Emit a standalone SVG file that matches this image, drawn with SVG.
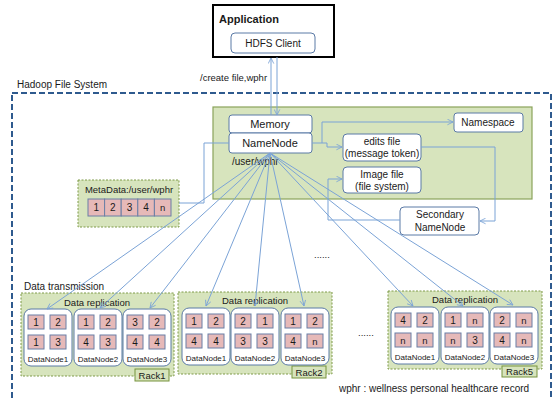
<svg xmlns="http://www.w3.org/2000/svg" width="556" height="399" viewBox="0 0 556 399">
  <style>
    text { font-family: "Liberation Sans", Arial, sans-serif; fill: #1a1a1a; }
    .t11 { font-size: 11px; }
    .t10 { font-size: 10px; }
    .t9 { font-size: 9.5px; }
    .lbl { font-size: 8px; }
    .mid { text-anchor: middle; }
    .wbox { fill: #ffffff; stroke: #5b7aa6; stroke-width: 1; }
    .panel { fill: #d7e4bd; stroke: #8aa35a; stroke-width: 1.2; }
    .dgreen { fill: #d7e4bd; stroke: #7f9a48; stroke-width: 1; stroke-dasharray: 2 1.5; }
    .rack { fill: #d7e4bd; stroke: #77933c; stroke-width: 1; }
    .dn { fill: #ffffff; stroke: #5b7aa6; stroke-width: 1; }
    .cell { fill: #e6b9b8; stroke: #6a7fa6; stroke-width: 1; }
    .conn { fill: none; stroke: #7ba3d6; stroke-width: 1; }
    .arr { marker-end: url(#ah); }
  </style>
  <defs>
    <marker id="ah" viewBox="0 0 10 10" refX="9" refY="5" markerWidth="7" markerHeight="7" orient="auto" markerUnits="userSpaceOnUse">
      <path d="M1,1 L9,5 L1,9" fill="none" stroke="#7ba3d6" stroke-width="1.2"/>
    </marker>
    <!-- data node: rounded white box with a 2x2 grid of blocks -->
    <g id="dnShell">
      <rect class="dn" x="0" y="0" width="48" height="57" rx="7"/>
    </g>
  </defs>

  <rect width="556" height="399" fill="#ffffff"/>

  <!-- Hadoop file system frame -->
  <g id="hdfs-frame">
    <rect x="12" y="93" width="539" height="320" fill="none" stroke="#2e5a8e" stroke-width="2" stroke-dasharray="6 3"/>
    <text class="t10" x="17" y="88">Hadoop File System</text>
  </g>

  <!-- Application -->
  <g id="application">
    <rect x="213" y="5" width="121" height="52" fill="#ffffff" stroke="#000000" stroke-width="2"/>
    <text class="t11" x="219" y="23" font-weight="bold">Application</text>
    <rect class="wbox" x="231" y="33" width="84" height="20" rx="4"/>
    <text class="t10 mid" x="273" y="47">HDFS Client</text>
  </g>

  <text class="t9" x="200" y="81" font-size="8.5">/create  file,wphr</text>

  <!-- NameNode panel -->
  <g id="namenode-panel">
    <rect class="panel" x="213" y="107" width="319" height="92"/>
  </g>
  <g id="memory">
    <rect class="wbox" x="229" y="115" width="83" height="18" rx="3"/>
    <text class="t11 mid" x="270" y="128">Memory</text>
  </g>
  <g id="namenode">
    <rect class="wbox" x="229" y="133" width="83" height="20" rx="3"/>
    <text class="t11 mid" x="270" y="147">NameNode</text>
    <text class="t10" x="232" y="165">/user/wphr</text>
  </g>
  <g id="namespace">
    <rect class="wbox" x="454" y="113" width="69" height="19" rx="3"/>
    <text class="t10 mid" x="488" y="126">Namespace</text>
  </g>
  <g id="edits-file">
    <rect class="wbox" x="343" y="134" width="78" height="27" rx="4"/>
    <text class="t10 mid" x="382" y="145">edits file</text>
    <text class="t10 mid" x="382" y="157">(message token)</text>
  </g>
  <g id="image-file">
    <rect class="wbox" x="343" y="167" width="78" height="26" rx="4"/>
    <text class="t10 mid" x="382" y="178">Image file</text>
    <text class="t10 mid" x="382" y="190">(file system)</text>
  </g>
  <g id="secondary-namenode">
    <rect class="wbox" x="400" y="207" width="79" height="28" rx="4"/>
    <text class="t10 mid" x="440" y="218">Secondary</text>
    <text class="t10 mid" x="440" y="231">NameNode</text>
  </g>

  <!-- Metadata -->
  <g id="metadata">
    <rect class="dgreen" x="78" y="180" width="101" height="47"/>
    <text class="t9 mid" x="129" y="193">MetaData:/user/wphr</text>
    <rect class="cell" x="88" y="199" width="16.6" height="17"/>
    <rect class="cell" x="104.6" y="199" width="16.6" height="17"/>
    <rect class="cell" x="121.2" y="199" width="16.6" height="17"/>
    <rect class="cell" x="137.8" y="199" width="16.6" height="17"/>
    <rect class="cell" x="154.4" y="199" width="16.6" height="17"/>
    <text class="t10 mid" x="96.3" y="211">1</text>
    <text class="t10 mid" x="112.9" y="211">2</text>
    <text class="t10 mid" x="129.5" y="211">3</text>
    <text class="t10 mid" x="146.1" y="211">4</text>
    <text class="t9 mid" x="162.7" y="211">n</text>
  </g>

  <text class="t10" x="24" y="290">Data transmission</text>
  <text class="t9" x="314" y="258">......</text>
  <text class="t9" x="358" y="336">......</text>

  <!-- Rack1 -->
  <g id="rack1">
    <rect class="dgreen" x="21" y="293" width="153" height="83"/>
    <text class="t9 mid" x="97" y="306">Data replication</text>
    <rect class="rack" x="135" y="369" width="34" height="12"/>
    <text class="t9 mid" x="152" y="378.5">Rack1</text>
  </g>
  <g id="rack1-dn1" transform="translate(24,309)">
    <use href="#dnShell"/>
    <rect class="cell" x="4" y="6" width="16" height="14"/><rect class="cell" x="26" y="6" width="16" height="14"/>
    <rect class="cell" x="4" y="26" width="16" height="14"/><rect class="cell" x="26" y="26" width="16" height="14"/>
    <text class="t10 mid" x="12" y="17">1</text><text class="t10 mid" x="34" y="17">2</text>
    <text class="t10 mid" x="12" y="37">1</text><text class="t10 mid" x="34" y="37">3</text>
    <text class="lbl mid" x="24" y="53">DataNode1</text>
  </g>
  <g id="rack1-dn2" transform="translate(74,309)">
    <use href="#dnShell"/>
    <rect class="cell" x="4" y="6" width="16" height="14"/><rect class="cell" x="26" y="6" width="16" height="14"/>
    <rect class="cell" x="4" y="26" width="16" height="14"/><rect class="cell" x="26" y="26" width="16" height="14"/>
    <text class="t10 mid" x="12" y="17">1</text><text class="t10 mid" x="34" y="17">2</text>
    <text class="t10 mid" x="12" y="37">4</text><text class="t10 mid" x="34" y="37">3</text>
    <text class="lbl mid" x="24" y="53">DataNode2</text>
  </g>
  <g id="rack1-dn3" transform="translate(123,309)">
    <use href="#dnShell"/>
    <rect class="cell" x="4" y="6" width="16" height="14"/><rect class="cell" x="26" y="6" width="16" height="14"/>
    <rect class="cell" x="4" y="26" width="16" height="14"/><rect class="cell" x="26" y="26" width="16" height="14"/>
    <text class="t10 mid" x="12" y="17">3</text><text class="t10 mid" x="34" y="17">2</text>
    <text class="t10 mid" x="12" y="37">4</text><text class="t10 mid" x="34" y="37">4</text>
    <text class="lbl mid" x="24" y="53">DataNode3</text>
  </g>

  <!-- Rack2 -->
  <g id="rack2">
    <rect class="dgreen" x="178" y="292" width="154" height="82"/>
    <text class="t9 mid" x="255" y="304">Data replication</text>
    <rect class="rack" x="292" y="366" width="34" height="12"/>
    <text class="t9 mid" x="309" y="375.5">Rack2</text>
  </g>
  <g id="rack2-dn1" transform="translate(182,308)">
    <use href="#dnShell"/>
    <rect class="cell" x="4" y="6" width="16" height="14"/><rect class="cell" x="26" y="6" width="16" height="14"/>
    <rect class="cell" x="4" y="26" width="16" height="14"/><rect class="cell" x="26" y="26" width="16" height="14"/>
    <text class="t10 mid" x="12" y="17">1</text><text class="t10 mid" x="34" y="17">2</text>
    <text class="t10 mid" x="12" y="37">4</text><text class="t10 mid" x="34" y="37">4</text>
    <text class="lbl mid" x="24" y="53">DataNode1</text>
  </g>
  <g id="rack2-dn2" transform="translate(231,308)">
    <use href="#dnShell"/>
    <rect class="cell" x="4" y="6" width="16" height="14"/><rect class="cell" x="26" y="6" width="16" height="14"/>
    <rect class="cell" x="4" y="26" width="16" height="14"/><rect class="cell" x="26" y="26" width="16" height="14"/>
    <text class="t10 mid" x="12" y="17">2</text><text class="t10 mid" x="34" y="17">1</text>
    <text class="t10 mid" x="12" y="37">3</text><text class="t10 mid" x="34" y="37">3</text>
    <text class="lbl mid" x="24" y="53">DataNode2</text>
  </g>
  <g id="rack2-dn3" transform="translate(281,308)">
    <use href="#dnShell"/>
    <rect class="cell" x="4" y="6" width="16" height="14"/><rect class="cell" x="26" y="6" width="16" height="14"/>
    <rect class="cell" x="4" y="26" width="16" height="14"/><rect class="cell" x="26" y="26" width="16" height="14"/>
    <text class="t10 mid" x="12" y="17">1</text><text class="t10 mid" x="34" y="17">2</text>
    <text class="t10 mid" x="12" y="37">4</text><text class="t9 mid" x="34" y="37">n</text>
    <text class="lbl mid" x="24" y="53">DataNode3</text>
  </g>

  <!-- Rack5 -->
  <g id="rack5">
    <rect class="dgreen" x="388" y="291" width="154" height="78"/>
    <text class="t9 mid" x="465" y="303">Data replication</text>
    <rect class="rack" x="502" y="366" width="35" height="11"/>
    <text class="t9 mid" x="519.5" y="375">Rack5</text>
  </g>
  <g id="rack5-dn1" transform="translate(391,307)">
    <use href="#dnShell"/>
    <rect class="cell" x="4" y="6" width="16" height="14"/><rect class="cell" x="26" y="6" width="16" height="14"/>
    <rect class="cell" x="4" y="26" width="16" height="14"/><rect class="cell" x="26" y="26" width="16" height="14"/>
    <text class="t10 mid" x="12" y="17">4</text><text class="t10 mid" x="34" y="17">2</text>
    <text class="t9 mid" x="12" y="37">n</text><text class="t9 mid" x="34" y="37">n</text>
    <text class="lbl mid" x="24" y="53">DataNode1</text>
  </g>
  <g id="rack5-dn2" transform="translate(441,307)">
    <use href="#dnShell"/>
    <rect class="cell" x="4" y="6" width="16" height="14"/><rect class="cell" x="26" y="6" width="16" height="14"/>
    <rect class="cell" x="4" y="26" width="16" height="14"/><rect class="cell" x="26" y="26" width="16" height="14"/>
    <text class="t10 mid" x="12" y="17">1</text><text class="t9 mid" x="34" y="17">n</text>
    <text class="t9 mid" x="12" y="37">n</text><text class="t10 mid" x="34" y="37">3</text>
    <text class="lbl mid" x="24" y="53">DataNode2</text>
  </g>
  <g id="rack5-dn3" transform="translate(490,307)">
    <use href="#dnShell"/>
    <rect class="cell" x="4" y="6" width="16" height="14"/><rect class="cell" x="26" y="6" width="16" height="14"/>
    <rect class="cell" x="4" y="26" width="16" height="14"/><rect class="cell" x="26" y="26" width="16" height="14"/>
    <text class="t10 mid" x="12" y="17">2</text><text class="t9 mid" x="34" y="17">n</text>
    <text class="t10 mid" x="12" y="37">4</text><text class="t9 mid" x="34" y="37">n</text>
    <text class="lbl mid" x="24" y="53">DataNode3</text>
  </g>

  <text class="t10" x="339" y="392">wphr : wellness personal healthcare record</text>

  <!-- connectors -->
  <g id="connectors">
    <line class="conn arr" x1="271" y1="115" x2="271" y2="58"/>
    <line class="conn arr" x1="277" y1="57" x2="277" y2="115"/>
    <polyline class="conn arr" points="312,143 322,143 322,122 453,122"/>
    <polyline class="conn arr" points="322,143 327,143 327,147 342,147"/>
    <polyline class="conn arr" points="421,147 495,147 495,221 480,221"/>
    <polyline class="conn arr" points="400,220 328,220 328,179 342,179"/>
    <polyline class="conn" points="229,143 204,143 204,203 179,203"/>
    <line class="conn arr" x1="270" y1="153" x2="47" y2="309"/>
    <line class="conn arr" x1="270" y1="153" x2="100" y2="308"/>
    <line class="conn arr" x1="270" y1="153" x2="150" y2="308"/>
    <line class="conn arr" x1="270" y1="153" x2="206" y2="306"/>
    <line class="conn arr" x1="270" y1="153" x2="255" y2="306"/>
    <line class="conn arr" x1="270" y1="153" x2="304" y2="306"/>
    <line class="conn arr" x1="270" y1="153" x2="413" y2="306"/>
    <line class="conn arr" x1="270" y1="153" x2="463" y2="306"/>
    <line class="conn arr" x1="270" y1="153" x2="513" y2="305"/>
  </g>
</svg>
